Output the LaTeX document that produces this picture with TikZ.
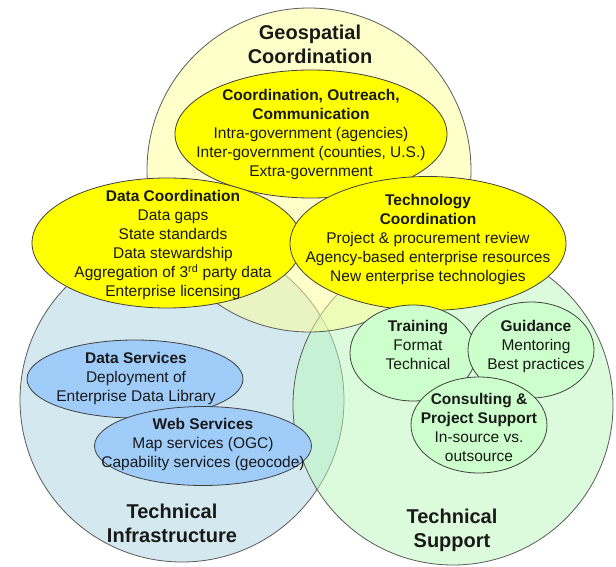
\documentclass[tikz,border=0pt]{standalone}
\usepackage{fontspec}
\setmainfont{Liberation Sans}
\usetikzlibrary{shapes.geometric}
\definecolor{circY}{RGB}{255,255,150}
\definecolor{circB}{RGB}{171,213,225}
\definecolor{circG}{RGB}{187,249,187}
\definecolor{ellY}{RGB}{255,255,0}
\definecolor{ellB}{RGB}{160,204,250}
\definecolor{ellG}{RGB}{204,255,204}
\definecolor{edge}{RGB}{90,90,90}
\tikzset{
  bigcircle/.style={circle, draw=edge, line width=0.8pt, fill opacity=0.5, inner sep=0pt},
  ell/.style={ellipse, draw=black!75, line width=0.8pt, inner sep=0pt},
  body/.style={align=center, font=\fontsize{15.5}{19}\selectfont, inner sep=0pt, text=black!90},
  bigtitle/.style={align=center, font=\fontsize{20}{24}\selectfont\bfseries, inner sep=0pt, text=black!90},
}
\begin{document}
\begin{tikzpicture}[x=1pt,y=-1pt]
\useasboundingbox (0,0) rectangle (616,567);
\fill[white] (0,0) rectangle (616,567);
% big circles
\node[bigcircle, fill=circB, minimum size=324pt] (infra) at (182,400) {};
\node[bigcircle, fill=circG, minimum size=320pt] (support) at (453,405) {};
\node[bigcircle, fill=circY, minimum size=324pt] (geo) at (309,170) {};
% titles
\node[bigtitle] (geotitle) at (310,44) {Geospatial\\Coordination};
\node[bigtitle] (infratitle) at (172,523.5) {Technical\\Infrastructure};
\node[bigtitle] (supporttitle) at (452,530) {Technical\\Support};
% yellow ellipses
\node[ell, fill=ellY, minimum width=272pt, minimum height=128pt] (coord) at (311,134) {};
\node[body] (coordtxt) at (311,134.5) {\textbf{Coordination, Outreach,}\\\textbf{Communication}\\Intra-government (agencies)\\Inter-government (counties, U.S.)\\Extra-government};
\node[ell, fill=ellY, minimum width=270pt, minimum height=130pt] (datac) at (167,243) {};
\node[body] (datactxt) at (173,245) {\textbf{Data Coordination}\\Data gaps\\State standards\\Data stewardship\\Aggregation of 3\textsuperscript{rd} party data\\Enterprise licensing};
\node[ell, fill=ellY, minimum width=276pt, minimum height=134pt] (techc) at (428,243.5) {};
\node[body] (techctxt) at (428,239.5) {\textbf{Technology}\\\textbf{Coordination}\\Project \& procurement review\\Agency-based enterprise resources\\New enterprise technologies};
% blue ellipses
\node[ell, fill=ellB, minimum width=216pt, minimum height=78pt] (datas) at (135,379) {};
\node[body] (datastxt) at (136,378.5) {\textbf{Data Services}\\Deployment of\\Enterprise Data Library};
\node[ell, fill=ellB, minimum width=217pt, minimum height=79pt] (webs) at (203,446) {};
\node[body] (webstxt) at (203,444) {\textbf{Web Services}\\Map services (OGC)\\Capability services (geocode)};
% green ellipses
\node[ell, fill=ellG, minimum width=126pt, minimum height=96pt] (train) at (413,353) {};
\node[body] (traintxt) at (418,344.5) {\textbf{Training}\\Format\\Technical};
\node[ell, fill=ellG, minimum width=126pt, minimum height=96pt] (guide) at (531,350) {};
\node[body] (guidetxt) at (536,346.5) {\textbf{Guidance}\\Mentoring\\Best practices};
\node[ell, fill=ellG, minimum width=136pt, minimum height=96pt] (consult) at (479,425) {};
\node[body] (consulttxt) at (479,427.5) {\textbf{Consulting \&}\\\textbf{Project Support}\\In-source vs.\\outsource};
\end{tikzpicture}
\end{document}
